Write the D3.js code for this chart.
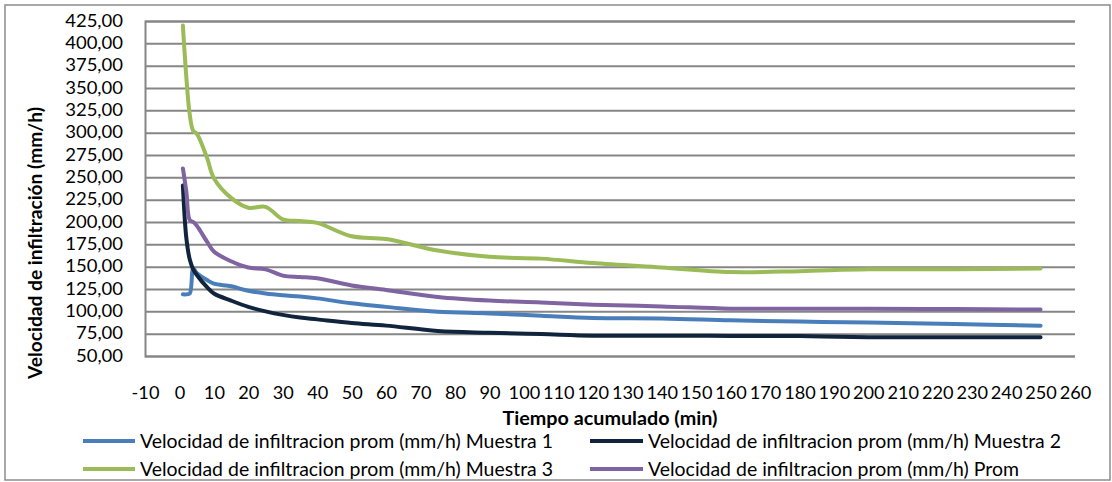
<!DOCTYPE html>
<html>
<head>
<meta charset="utf-8">
<script src="https://cdn.jsdelivr.net/npm/d3@7"></script>
<style>
  html, body { margin: 0; padding: 0; background: #fff; }
  svg { display: block; }
  text { font-family: Lato, "Open Sans", sans-serif; fill: #000; }
</style>
</head>
<body>
<svg id="chart" width="1112" height="482"></svg>
<script>
// Tiempo acumulado (min)
const tiempos = [1, 2, 3, 4, 5, 8, 10, 15, 20, 25, 30, 35, 40, 50, 60, 75, 90, 105, 120, 140, 160, 180, 200, 225, 250];

// Velocidad de infiltracion prom (mm/h) por muestra
const muestra1 = [119, 119, 120, 148, 143, 135, 131, 128, 123, 120, 118, 116.5, 114.5, 109, 105, 99.5, 97.7, 95, 92.5, 92, 90, 88.5, 87.6, 85.7, 84];
const muestra2 = [241, 182, 158, 147, 141, 127, 120, 112, 105, 100, 96, 93, 91, 87, 84, 78, 76, 74.5, 72.7, 72.7, 72.5, 72.3, 71, 71, 71];
const muestra3 = [420, 362, 320, 302, 299, 272, 249, 227, 216, 217, 203, 201, 199, 184, 181, 168, 161, 159, 154, 149, 144, 145, 147, 147, 148];
const promedio = [260, 234, 202, 200, 196, 178, 167, 156, 149, 147, 140, 138.5, 137, 129, 124, 116, 112, 110, 107.5, 105.5, 103, 103, 103, 102.5, 102];

const serieNombres = [
  "Velocidad de infiltracion prom (mm/h) Muestra 1",
  "Velocidad de infiltracion prom (mm/h) Muestra 2",
  "Velocidad de infiltracion prom (mm/h) Muestra 3",
  "Velocidad de infiltracion prom (mm/h) Prom"
];
const serieColores = ["#4a7ebb", "#10243e", "#9bbb59", "#8064a2"];

const xTicks = [-10, 0, 10, 20, 30, 40, 50, 60, 70, 80, 90, 100, 110, 120, 130, 140, 150, 160, 170, 180, 190, 200, 210, 220, 230, 240, 250, 260];
const yTicks = [50, 75, 100, 125, 150, 175, 200, 225, 250, 275, 300, 325, 350, 375, 400, 425];

const xTitulo = "Tiempo acumulado (min)";
const yTitulo = "Velocidad de infiltración (mm/h)";

const svg = d3.select("#chart");

// outer chart frame
svg.append("rect")
  .attr("x", 5).attr("y", 5).attr("width", 1105).attr("height", 475)
  .attr("fill", "#fff").attr("stroke", "#8c8c8c").attr("stroke-width", 1.5);

const plot = { left: 145, right: 1075, top: 21, bottom: 356 };

const x = d3.scaleLinear().domain([-10, 260]).range([plot.left, plot.right]);
const y = d3.scaleLinear().domain([50, 425]).range([plot.bottom, plot.top]);

const fmtY = v => d3.format(".2f")(v).replace(".", ",");
const fmtX = v => String(v);   // plain hyphen for negatives

// value axis with horizontal gridlines
const yAxis = svg.append("g")
  .attr("transform", `translate(${plot.left},0)`)
  .call(d3.axisLeft(y).tickValues(yTicks).tickFormat(fmtY)
    .tickSize(-(plot.right - plot.left)).tickPadding(22));
yAxis.select(".domain").attr("stroke", "#868686").attr("stroke-width", 2);
yAxis.selectAll(".tick line").attr("stroke", "#868686").attr("stroke-width", 2);
yAxis.selectAll(".tick text")
  .attr("font-size", 16.5).attr("font-family", "Lato")
  .each(function () {
    const w = this.getComputedTextLength();
    d3.select(this).attr("textLength", w * 1.12).attr("lengthAdjust", "spacingAndGlyphs");
  });

// time axis labels (no tick marks)
const xAxis = svg.append("g")
  .attr("transform", `translate(0,${plot.bottom})`)
  .call(d3.axisBottom(x).tickValues(xTicks).tickFormat(fmtX).tickSize(0).tickPadding(31));
xAxis.select(".domain").remove();
xAxis.selectAll(".tick text")
  .attr("font-size", 16.5).attr("font-family", "Lato")
  .each(function () {
    const w = this.getComputedTextLength();
    d3.select(this).attr("textLength", w * 1.1).attr("lengthAdjust", "spacingAndGlyphs");
  });

// axis titles
svg.append("text")
  .attr("x", 610).attr("y", 425)
  .attr("text-anchor", "middle")
  .attr("font-size", 18).attr("font-weight", "bold")
  .attr("textLength", 215).attr("lengthAdjust", "spacingAndGlyphs")
  .text(xTitulo);

svg.append("text")
  .attr("transform", "translate(42,243) rotate(-90)")
  .attr("text-anchor", "middle")
  .attr("font-size", 18).attr("font-weight", "bold")
  .attr("textLength", 272).attr("lengthAdjust", "spacingAndGlyphs")
  .text(yTitulo);

// series lines
const series = [muestra1, muestra2, muestra3, promedio].map((vals, i) => ({
  name: serieNombres[i],
  color: serieColores[i],
  points: tiempos.map((t, j) => [t, vals[j]])
}));

const line = d3.line()
  .x(d => x(d[0]))
  .y(d => y(d[1]))
  .curve(d3.curveCatmullRom.alpha(0.5));

svg.append("g").selectAll("path")
  .data(series)
  .join("path")
  .attr("d", d => line(d.points))
  .attr("fill", "none")
  .attr("stroke", d => d.color)
  .attr("stroke-width", 4)
  .attr("stroke-linecap", "round")
  .attr("stroke-linejoin", "round");

// legend, two columns by two rows
const legPos = [
  { lx: 83, tx: 140, y: 441 },
  { lx: 590, tx: 648, y: 441 },
  { lx: 83, tx: 140, y: 469 },
  { lx: 590, tx: 648, y: 469 }
];
const leg = svg.append("g").selectAll("g")
  .data(series)
  .join("g");
leg.append("line")
  .attr("x1", (d, i) => legPos[i].lx)
  .attr("x2", (d, i) => legPos[i].tx - 5)
  .attr("y1", (d, i) => legPos[i].y)
  .attr("y2", (d, i) => legPos[i].y)
  .attr("stroke", d => d.color)
  .attr("stroke-width", 4);
const legTexts = leg.append("text")
  .attr("x", (d, i) => legPos[i].tx)
  .attr("y", (d, i) => legPos[i].y + 6.5)
  .attr("font-size", 19)
  .text(d => d.name);
// fit legend label widths to the column span
const refW = legTexts.nodes()[0].getComputedTextLength();
const k = 413 / refW;
legTexts.each(function () {
  const w = this.getComputedTextLength();
  d3.select(this).attr("textLength", w * k).attr("lengthAdjust", "spacingAndGlyphs");
});
</script>
</body>
</html>
